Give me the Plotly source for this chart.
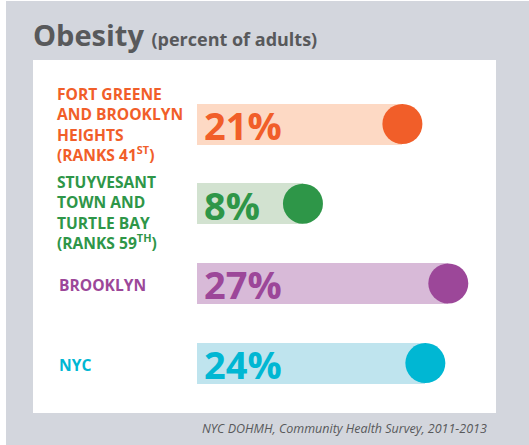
import plotly.graph_objects as go

# ---- data ----
labels = [
    "FORT GREENE<br>AND BROOKLYN<br>HEIGHTS<br>(RANKS 41<sup>ST</sup>)",
    "STUYVESANT<br>TOWN AND<br>TURTLE BAY<br>(RANKS 59<sup>TH</sup>)",
    "BROOKLYN",
    "NYC",
]
values = [21, 8, 27, 24]
dark_colors = ["#f15e29", "#2e9648", "#9c4799", "#00b7d3"]
light_colors = ["#fdd9c4", "#d2e2d0", "#d8bad8", "#bfe4ee"]
title_main = "Obesity"
title_sub = "(percent of adults)"
source = "NYC DOHMH, Community Health Survey, 2011-2013"

W, H = 529, 445
pos = list(range(len(values)))

# axis scaling (pixel geometry); bars start a fixed padding left of zero
bar_start_px = 197
bar_pad = 5.85          # data units of padding before zero (room for the % label)
px_per_unit = 7.65
zero_px = bar_start_px + bar_pad * px_per_unit
y0_px, px_per_row = 124, 79.7
xr = [-zero_px / px_per_unit, (W - zero_px) / px_per_unit]
yr = [(H - y0_px) / px_per_row, -y0_px / px_per_row]

fig = go.Figure()
fig.add_trace(go.Bar(
    x=[v + bar_pad for v in values], y=pos, orientation="h", base=-bar_pad,
    width=41 / px_per_row,
    marker=dict(color=light_colors, line=dict(width=0)),
    hoverinfo="skip", showlegend=False,
))
fig.add_trace(go.Scatter(
    x=values, y=pos, mode="markers",
    marker=dict(size=40, color=dark_colors, line=dict(width=0)),
    hoverinfo="skip", showlegend=False,
))

annotations = []
FONT = "Open Sans, sans-serif"
for i, (lab, v, c) in enumerate(zip(labels, values, dark_colors)):
    annotations.append(dict(
        x=-bar_pad, y=i, xref="x", yref="y", xanchor="left", yanchor="middle",
        xshift=5, yshift=-1, text=f"<b>{v}%</b>", showarrow=False,
        font=dict(family=FONT, size=38, color=c),
    ))
    multiline = "<br>" in lab
    annotations.append(dict(
        x=(55 if multiline else 57) / W, y=i, xref="paper", yref="y",
        xanchor="left", yanchor="middle", align="left",
        yshift=(-9 if i == 1 else 0) if multiline else -2,
        text=f"<b>{lab}</b>", showarrow=False,
        font=dict(family=FONT, size=15.6, color=c),
    ))

annotations.append(dict(
    x=31 / W, y=1 - 56 / H, xref="paper", yref="paper",
    xanchor="left", yanchor="bottom", showarrow=False,
    text=f"<b>{title_main}</b> <span style='font-size:18px'><b>{title_sub}</b></span>",
    font=dict(family=FONT, size=29, color="#58595b"),
))
annotations.append(dict(
    x=489 / W, y=1 - 428 / H, xref="paper", yref="paper",
    xanchor="right", yanchor="middle", showarrow=False,
    text=f"<i>{source}</i>",
    font=dict(family="Open Sans, sans-serif", size=12.5, color="#58595b"),
))

shapes = [
    dict(type="rect", xref="paper", yref="paper", x0=6 / W, x1=1, y0=0, y1=1 - 1 / H,
         fillcolor="#d3d6dd", line=dict(width=0), layer="below"),
    dict(type="rect", xref="paper", yref="paper", x0=33 / W, x1=496 / W,
         y0=1 - 413 / H, y1=1 - 60 / H,
         fillcolor="#ffffff", line=dict(width=0), layer="below"),
]

fig.update_layout(
    width=W, height=H,
    margin=dict(l=0, r=0, t=0, b=0),
    paper_bgcolor="#ffffff", plot_bgcolor="rgba(0,0,0,0)",
    xaxis=dict(range=xr, visible=False, fixedrange=True),
    yaxis=dict(range=yr, visible=False, fixedrange=True),
    annotations=annotations, shapes=shapes,
    bargap=0,
)
fig.write_html(
    "out.html",
    config={"displayModeBar": False},
    post_script="document.body.style.margin='0';document.body.style.overflow='hidden';",
)
